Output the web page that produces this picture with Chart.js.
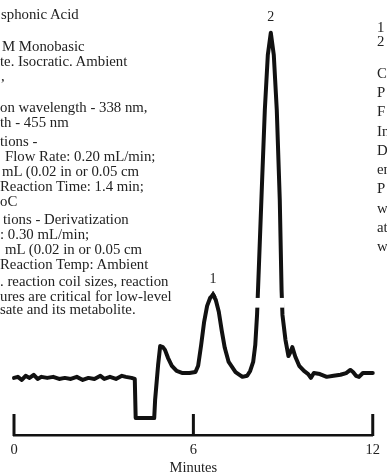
<!DOCTYPE html>
<html>
<head>
<meta charset="utf-8">
<script src="https://cdn.jsdelivr.net/npm/chart.js@4/dist/chart.umd.min.js"></script>
<style>
  html, body { margin: 0; padding: 0; background: #fff; }
  #wrap { position: relative; width: 387px; height: 475px; overflow: hidden; }
  #chart { position: absolute; left: 0; top: 0; }
  .note {
    position: absolute;
    font-family: "Liberation Serif", "Times New Roman", serif;
    font-size: 14.8px;
    line-height: 16px;
    color: #222;
    white-space: nowrap;
  }
</style>
</head>
<body>
<div id="wrap">
  <canvas id="chart" width="387" height="475"></canvas>
</div>
<script>
// Chromatogram trace: retention time (min) and detector response (peak 2 = 100)
const minutes = [
  0.00, 0.13, 0.26, 0.39, 0.52, 0.66, 0.79, 0.92, 1.11, 1.31,
  1.51, 1.70, 1.90, 2.10, 2.30, 2.49, 2.69, 2.89, 3.02, 3.21,
  3.41, 3.61, 3.74, 3.93, 4.04, 4.07, 4.69, 4.72, 4.82, 4.89,
  4.98, 5.05, 5.15, 5.28, 5.44, 5.64, 5.87, 6.07, 6.16, 6.26,
  6.36, 6.46, 6.56, 6.66, 6.75, 6.85, 6.95, 7.05, 7.18, 7.41,
  7.64, 7.80, 7.90, 8.00, 8.07, 8.13, 8.20, 8.30, 8.39, 8.49,
  8.59, 8.69, 8.79, 8.89, 8.95, 8.98, 9.08, 9.18, 9.25, 9.31,
  9.41, 9.54, 9.70, 9.84, 9.93, 10.03, 10.23, 10.46, 10.69, 10.92,
  11.11, 11.25, 11.34, 11.44, 11.54, 11.67, 11.84, 12.00, 12.12
];
const response = [
  0.3, 0.6, -0.3, 0.9, 0.3, 1.2, 0.0, 0.6, 0.3, 0.6,
  0.0, 0.3, 0.0, 0.6, -0.3, 0.3, 0.0, 0.9, 0.0, 0.6,
  0.0, 0.9, 0.6, 0.3, 0.0, -11.3, -11.3, -6.1, 4.0, 9.5,
  9.2, 8.4, 6.1, 3.8, 2.3, 1.7, 1.7, 2.0, 3.8, 9.8,
  16.5, 21.1, 23.4, 24.3, 22.8, 19.4, 13.9, 9.0, 4.9, 2.0,
  0.6, 0.9, 2.3, 4.9, 9.8, 18.5, 34.4, 57.5, 77.7, 93.6,
  100.0, 93.6, 77.7, 51.7, 25.7, 18.5, 11.3, 6.6, 7.8, 9.2,
  6.4, 3.8, 2.3, 1.4, 0.3, 1.7, 1.4, 0.6, 0.9, 1.2,
  1.7, 2.6, 2.0, 0.9, 0.6, 1.7, 1.7, 1.7, 1.7
];

// Identified peaks
const peakNames = ["1", "2"];
const peakTimes = [6.66, 8.59];
const peakHeights = [24.3, 100.0];

// Time axis
const xTicks = [0, 6, 12];
const xTitle = "Minutes";

// Method notes beside the trace
const leftNotes = [
  "sphonic Acid",
  "M Monobasic",
  "te. Isocratic. Ambient",
  ",",
  "on wavelength - 338 nm,",
  "th - 455 nm",
  "tions -",
  "Flow Rate: 0.20 mL/min;",
  "mL (0.02 in or 0.05 cm",
  "Reaction Time: 1.4 min;",
  "oC",
  "tions - Derivatization",
  ": 0.30 mL/min;",
  "mL (0.02 in or 0.05 cm",
  "Reaction Temp: Ambient",
  ". reaction coil sizes, reaction",
  "ures are critical for low-level",
  "sate and its metabolite."
];
const rightNotes = ["1", "2", "C", "P", "F", "In", "D", "en", "P", "w", "at", "w"];

// Note layout (left edge and vertical centre of each line, in px)
const leftNoteX = [1, 2, 0, 1, 0, 0, 0, 5, 2, 0, 0, 3, 0, 5, 0, 0, 0, 0];
const leftNoteY = [15, 47, 62, 77, 108, 123, 142, 157, 172, 187, 202, 220, 235, 250, 265, 282, 297, 310];
const rightNoteX = 377;
const rightNoteY = [28, 42, 74, 93, 112, 132, 151, 170, 189, 209, 228, 247];

const wrap = document.getElementById("wrap");
function addNote(text, x, cy) {
  const d = document.createElement("div");
  d.className = "note";
  d.textContent = text;
  d.style.left = x + "px";
  d.style.top = (cy - 9.5) + "px";
  wrap.appendChild(d);
}
leftNotes.forEach((t, i) => addNote(t, leftNoteX[i], leftNoteY[i]));
rightNotes.forEach((t, i) => addNote(t, rightNoteX, rightNoteY[i]));

const INK = "#111";
const serif = "'Liberation Serif', 'Times New Roman', serif";

// Short upright tick marks standing on the time axis
const uprightTicks = {
  id: "uprightTicks",
  afterDraw(chart) {
    const { ctx, chartArea } = chart;
    const x = chart.scales.x;
    ctx.save();
    ctx.strokeStyle = INK;
    ctx.lineWidth = 3;
    ctx.lineCap = "butt";
    xTicks.forEach(v => {
      const px = x.getPixelForValue(v);
      ctx.beginPath();
      ctx.moveTo(px, chartArea.bottom + 1);
      ctx.lineTo(px, chartArea.bottom - 21);
      ctx.stroke();
    });
    ctx.restore();
  }
};

// Recorder break across the tall peak
const traceBreak = { minutes: [8.05, 9.05], values: [20.6, 23.4] };
const breakBand = {
  id: "breakBand",
  afterDatasetsDraw(chart) {
    const { ctx } = chart;
    const { x, y } = chart.scales;
    const x0 = x.getPixelForValue(traceBreak.minutes[0]);
    const x1 = x.getPixelForValue(traceBreak.minutes[1]);
    const y0 = y.getPixelForValue(traceBreak.values[1]);
    const y1 = y.getPixelForValue(traceBreak.values[0]);
    ctx.save();
    ctx.fillStyle = "#fff";
    ctx.fillRect(x0, y0, x1 - x0, y1 - y0);
    ctx.restore();
  }
};

// Peak numbers above each apex
const peakNumbers = {
  id: "peakNumbers",
  afterDatasetsDraw(chart) {
    const { ctx } = chart;
    const { x, y } = chart.scales;
    ctx.save();
    ctx.font = "14px " + serif;
    ctx.fillStyle = "#222";
    ctx.textAlign = "center";
    ctx.textBaseline = "middle";
    peakNames.forEach((n, i) => {
      ctx.fillText(n, x.getPixelForValue(peakTimes[i]), y.getPixelForValue(peakHeights[i]) - 16);
    });
    ctx.restore();
  }
};

new Chart(document.getElementById("chart"), {
  type: "line",
  data: {
    datasets: [
      {
        data: minutes.map((t, i) => ({ x: t, y: response[i] })),
        borderColor: INK,
        borderWidth: 4,
        pointRadius: 0,
        tension: 0,
        borderJoinStyle: "round",
        borderCapStyle: "round",
        clip: false
      },
      {
        data: [{ x: peakTimes[0], y: peakHeights[0] }],
        showLine: false,
        pointStyle: "triangle",
        pointRadius: 3.5,
        backgroundColor: INK,
        borderColor: INK,
        borderWidth: 1
      }
    ]
  },
  options: {
    responsive: false,
    animation: false,
    events: [],
    layout: { padding: { left: 14, right: 7, top: 10, bottom: 0 } },
    plugins: { legend: { display: false }, tooltip: { enabled: false } },
    scales: {
      x: {
        type: "linear",
        min: 0,
        max: 12,
        afterBuildTicks: s => { s.ticks = xTicks.map(v => ({ value: v })); },
        afterFit: s => { s.height = 40; },
        grid: { display: false, drawTicks: false },
        border: { display: true, width: 2.5, color: INK },
        ticks: {
          font: { family: serif, size: 14.5, lineHeight: 1.1 },
          color: "#222",
          padding: 7,
          maxRotation: 0,
          autoSkip: false
        },
        title: {
          display: true,
          text: xTitle,
          font: { family: serif, size: 14.5, lineHeight: 1.0 },
          color: "#222",
          padding: { top: 0, bottom: 0 }
        }
      },
      y: { display: false, min: -16.2, max: 106.6 }
    }
  },
  plugins: [uprightTicks, breakBand, peakNumbers]
});
</script>
</body>
</html>
